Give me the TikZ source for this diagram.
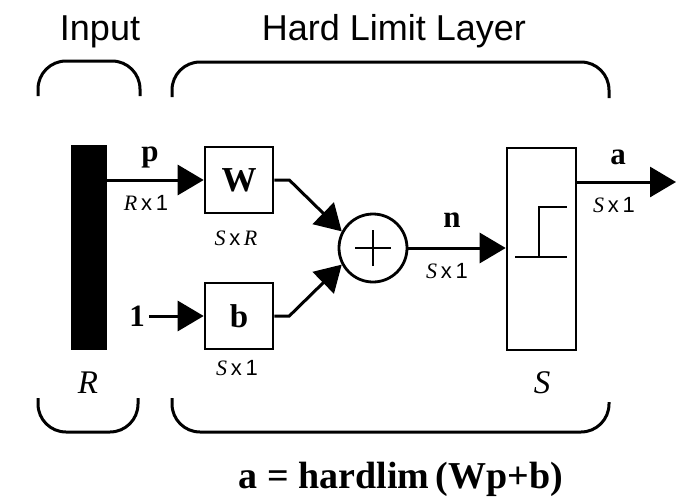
\documentclass[tikz,border=0pt]{standalone}
\usepackage{fontspec}
\setmainfont{Liberation Serif}
\setsansfont{Liberation Sans}
\usetikzlibrary{arrows.meta}
\begin{document}
\begin{tikzpicture}[x=1pt,y=-1pt,
  wire/.style={line width=3pt, -{Triangle[length=26pt,width=30pt]}},
  box/.style={draw, line width=2.6pt, minimum width=68pt, minimum height=66pt, inner sep=0pt},
  bracketline/.style={line width=3pt, rounded corners=28pt},
  boldlab/.style={font=\bfseries\fontsize{31}{31}\selectfont, inner sep=0pt},
  dimlab/.style={font=\fontsize{22}{22}\selectfont, inner sep=0pt},
  head/.style={font=\sffamily\fontsize{36}{36}\selectfont, inner sep=0pt, anchor=base}]
\useasboundingbox (0,0) rectangle (677,498);
% headings
\node[head] (inlab) at (100,40) {Input};
\node[head] (laylab) at (394,40) {Hard Limit Layer};
% brackets
\draw[bracketline] (38,96) -- (38,61) -- (140,61) -- (140,96);
\draw[bracketline] (172,97) -- (172,62) -- (609,62) -- (609,98);
\draw[bracketline] (38,398) -- (38,432) -- (138,432) -- (138,398);
\draw[bracketline] (172,398) -- (172,432) -- (609,432) -- (609,402);
% input bar
\node[fill=black, minimum width=36pt, minimum height=205pt, inner sep=0pt] (bar) at (89,247.5) {};
% boxes
\node[box] (W) at (239,180) {\bfseries\fontsize{35}{35}\selectfont W};
\node[box] (b) at (239,316) {\bfseries\fontsize{33}{33}\selectfont b};
\node[circle, draw, line width=2.8pt, minimum size=68pt, inner sep=0pt] (sum) at (373,248) {};
\draw[line width=2.6pt] ([xshift=-18pt]sum.center) -- ([xshift=18pt]sum.center);
\draw[line width=2.6pt] ([yshift=-18pt]sum.center) -- ([yshift=18pt]sum.center);
\node[draw, line width=2.6pt, minimum width=69pt, minimum height=202pt, inner sep=0pt] (hl) at (541.5,249) {};
% step function
\coordinate (s1) at (515,257);
\coordinate (s2) at (539,257);
\coordinate (s3) at (539,207);
\coordinate (s4) at (567,207);
\coordinate (s5) at (567,257);
\draw[line width=2.4pt] (s1) -- (s5);
\draw[line width=2.4pt] (s2) -- (s3) -- (s4);
% labels
\node[boldlab] (p) at (150,157) {p};
\node[dimlab] (rx1) at (146,203) {\textit{R}\,\textsf{x\,1}};
\node[dimlab] (sxr) at (236,238) {\textit{S}\,\textsf{x}\,\textit{R}};
\node[boldlab] (one) at (137,316) {1};
\node[dimlab] (sx1b) at (237,368) {\textit{S}\,\textsf{x\,1}};
\node[boldlab] (n) at (452,220) {n};
\node[dimlab] (sx1n) at (447,271) {\textit{S}\,\textsf{x\,1}};
\node[boldlab] (a) at (618,157) {a};
\node[dimlab] (sx1a) at (614,205) {\textit{S}\,\textsf{x\,1}};
\node[font=\itshape\fontsize{33}{33}\selectfont, inner sep=0pt] (R) at (88,383) {R};
\node[font=\itshape\fontsize{33}{33}\selectfont, inner sep=0pt] (S) at (542,383) {S};
\node[font=\bfseries\fontsize{38}{38}\selectfont, inner sep=0pt, anchor=base] (eq) at (401,488) {a = hardlim\,(Wp+b)};
% connectors
\coordinate (aout) at (676,182);
\draw[wire] (bar.east |- W.west) -- (W.west);
\draw[wire] ([xshift=4pt]one.east) -- (b.west);
\draw[wire] (W.east) -- ++(15,0) -- (sum.152);
\draw[wire] (b.east) -- ++(15,0) -- (sum.208);
\draw[wire] (sum.east) -- (hl.west |- sum.east);
\draw[wire] (hl.east |- aout) -- (aout);
\end{tikzpicture}
\end{document}
